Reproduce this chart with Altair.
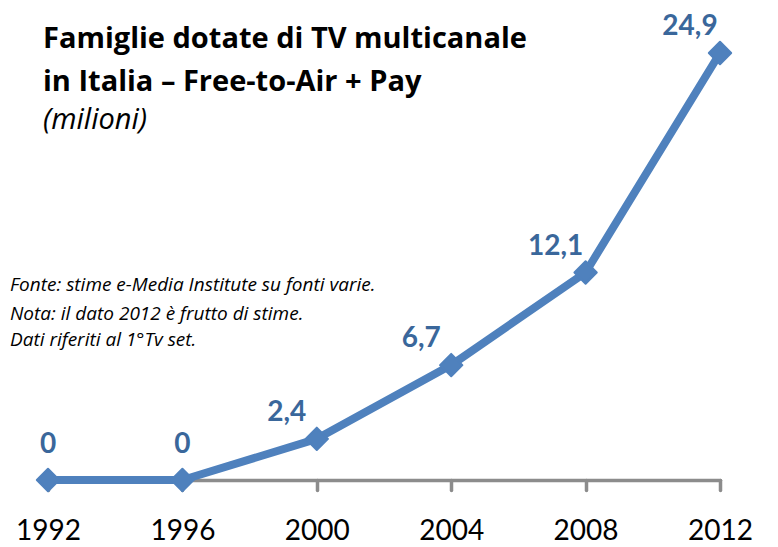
import altair as alt
import pandas as pd

years = [1992, 1996, 2000, 2004, 2008, 2012]
values = [0, 0, 2.4, 6.7, 12.1, 24.9]
value_labels = ["0", "0", "2,4", "6,7", "12,1", "24,9"]
title_lines = ["Famiglie dotate di TV multicanale", "in Italia \u2013 Free-to-Air + Pay"]
subtitle = "(milioni)"
note_source = "Fonte: stime e-Media Institute su fonti varie."
note_lines = ["Nota: il dato 2012 \u00e8 frutto di stime.", "Dati riferiti al 1\u00b0Tv set."]

df = pd.DataFrame({"year": years, "value": values, "label": value_labels})

FONT = "Lato"
TFONT = "Open Sans"
BLUE = "#4F81BD"
LABEL_BLUE = "#3A679B"

x = alt.X(
    "year:Q",
    scale=alt.Scale(domain=[1992, 2012], nice=False, zero=False),
    axis=alt.Axis(
        values=years,
        format="d",
        title=None,
        grid=False,
        domainColor="#8C8C8C",
        domainWidth=3.5,
        domainCap="round",
        tickColor="#8C8C8C",
        tickWidth=3.5,
        tickCap="round",
        tickSize=10,
        labelFontSize=28,
        labelFont=FONT,
        labelColor="#000000",
        labelPadding=27,
        labelFlush=False,
        labelOverlap=False,
        labelBound=False,
    ),
)
y = alt.Y(
    "value:Q",
    scale=alt.Scale(domain=[0, 24.9], nice=False, zero=True),
    axis=None,
)

base = alt.Chart(df)

line = base.mark_line(color=BLUE, strokeWidth=8, strokeJoin="round").encode(x=x, y=y)
points = base.mark_point(
    shape="diamond", filled=True, size=500, color=BLUE, opacity=1,
    stroke=BLUE, strokeWidth=2, strokeJoin="round"
).encode(x=x, y=y)

labels_zero = base.transform_filter("datum.value == 0").mark_text(
    font=FONT, fontSize=28, fontWeight="bold", color=LABEL_BLUE, dy=-35
).encode(x=x, y=y, text="label:N")
labels_other = base.transform_filter("datum.value > 0").mark_text(
    font=FONT, fontSize=28, fontWeight="bold", color=LABEL_BLUE, dy=-26, dx=-30
).encode(x=x, y=y, text="label:N")

one = pd.DataFrame({"a": [0]})
title_mark = alt.Chart(one).mark_text(
    text=title_lines, font=TFONT, fontSize=29, fontWeight="bold", color="#000000",
    align="left", baseline="alphabetic", lineHeight=43
).encode(x=alt.value(-5), y=alt.value(-5))
subtitle_mark = alt.Chart(one).mark_text(
    text=subtitle, font=TFONT, fontSize=29, fontStyle="italic", color="#000000",
    align="left", baseline="alphabetic"
).encode(x=alt.value(-5), y=alt.value(76))
source_mark = alt.Chart(one).mark_text(
    text=note_source, font=TFONT, fontSize=19, fontStyle="italic", color="#000000",
    align="left", baseline="alphabetic"
).encode(x=alt.value(-38), y=alt.value(238))
notes_mark = alt.Chart(one).mark_text(
    text=note_lines, font=TFONT, fontSize=19, fontStyle="italic", color="#000000",
    align="left", baseline="alphabetic", lineHeight=26
).encode(x=alt.value(-38), y=alt.value(267))

chart = alt.layer(
    line, points, labels_zero, labels_other,
    title_mark, subtitle_mark, source_mark, notes_mark
).properties(
    width=672,
    height=427,
    background="#ffffff",
    autosize=alt.AutoSizeParams(type="none"),
    padding={"left": 40, "top": 45, "right": 50, "bottom": 67},
).configure_view(stroke=None).configure_axis(grid=False)

chart.save("out.html", embed_options={"renderer": "svg", "actions": False})
